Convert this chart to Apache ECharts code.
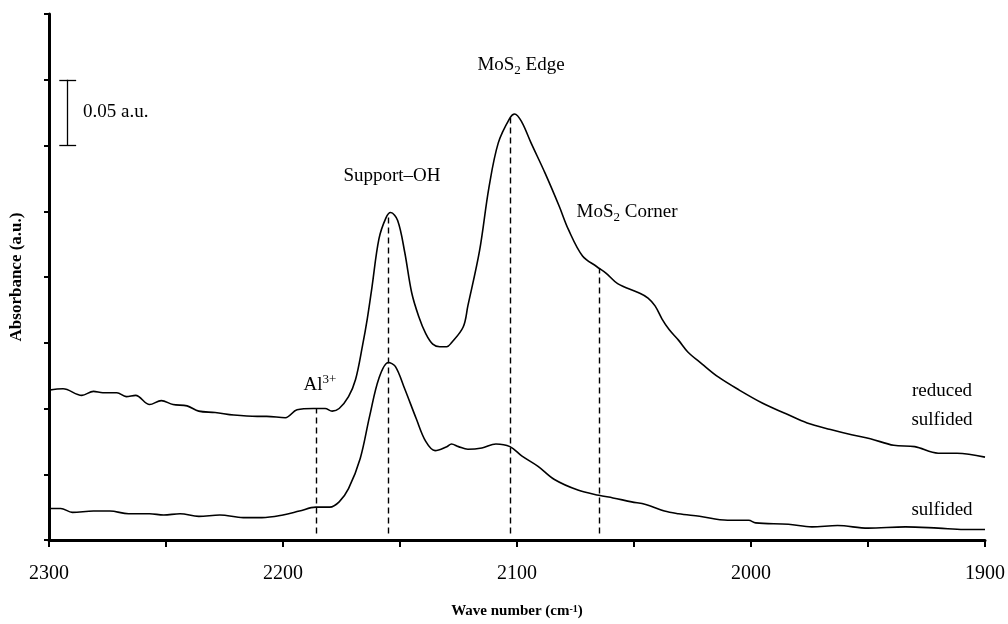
<!DOCTYPE html>
<html>
<head>
<meta charset="utf-8">
<title>CO adsorption IR spectra</title>
<script src="https://cdn.jsdelivr.net/npm/echarts@6/dist/echarts.min.js"></script>
<style>
  html, body { margin: 0; padding: 0; background: #fff; }
  #chart { width: 1008px; height: 624px; }
</style>
</head>
<body>
<div id="chart"></div>
<script>
// Reduced + sulfided catalyst spectrum (wavenumber in cm-1, absorbance in a.u.)
const reducedWn = [2300, 2294, 2286, 2281, 2277, 2271, 2267, 2263, 2257, 2252,
  2247, 2241, 2236, 2229, 2221, 2211, 2207, 2199, 2194, 2187,
  2182, 2179, 2176, 2172, 2169, 2166, 2164, 2162, 2159, 2156,
  2154, 2151, 2148, 2145, 2142, 2139, 2136, 2133, 2130, 2128,
  2123, 2121, 2116, 2112, 2108, 2103, 2101, 2098, 2094, 2088,
  2082, 2078, 2072, 2066, 2062, 2057, 2048, 2044, 2041, 2038,
  2035, 2031, 2027, 2021, 2014, 2005, 1995, 1985, 1976, 1966,
  1957, 1949, 1939, 1930, 1920, 1912, 1900];
const reducedAbs = [0.114, 0.115, 0.110, 0.113, 0.112, 0.112, 0.109, 0.110, 0.103, 0.106,
  0.103, 0.102, 0.098, 0.097, 0.095, 0.094, 0.094, 0.093, 0.099, 0.100,
  0.100, 0.098, 0.100, 0.109, 0.122, 0.148, 0.168, 0.192, 0.229, 0.245,
  0.249, 0.243, 0.219, 0.188, 0.170, 0.157, 0.149, 0.147, 0.147, 0.150,
  0.162, 0.178, 0.220, 0.268, 0.302, 0.321, 0.324, 0.318, 0.302, 0.279,
  0.254, 0.236, 0.216, 0.208, 0.203, 0.195, 0.188, 0.184, 0.178, 0.168,
  0.160, 0.152, 0.143, 0.134, 0.124, 0.114, 0.104, 0.096, 0.089, 0.084,
  0.080, 0.077, 0.072, 0.071, 0.066, 0.066, 0.063];

// Sulfided catalyst spectrum
const sulfidedWn = [2300, 2295, 2290, 2281, 2274, 2266, 2257, 2251, 2244, 2236,
  2227, 2217, 2209, 2200, 2193, 2186, 2180, 2176, 2172, 2167,
  2163, 2159, 2155, 2152, 2148, 2143, 2139, 2135, 2130, 2128,
  2125, 2121, 2115, 2109, 2103, 2098, 2091, 2084, 2074, 2065,
  2059, 2051, 2045, 2037, 2031, 2022, 2010, 2001, 1998, 1984,
  1974, 1963, 1950, 1934, 1920, 1909, 1900];
const sulfidedAbs = [0.024, 0.024, 0.021, 0.022, 0.022, 0.020, 0.020, 0.019, 0.020, 0.018,
  0.019, 0.017, 0.017, 0.019, 0.022, 0.025, 0.025, 0.029, 0.039, 0.062,
  0.094, 0.123, 0.135, 0.132, 0.115, 0.092, 0.075, 0.068, 0.071, 0.073,
  0.071, 0.069, 0.070, 0.073, 0.071, 0.064, 0.056, 0.046, 0.038, 0.034,
  0.032, 0.029, 0.027, 0.022, 0.020, 0.018, 0.015, 0.015, 0.013, 0.012,
  0.010, 0.011, 0.009, 0.010, 0.009, 0.008, 0.008];

// Band assignments (cm-1) marked with dashed drop lines
const bandNames = ['Al3+', 'Support-OH', 'MoS2 Edge', 'MoS2 Corner'];
const bandWn = [2186, 2155, 2103, 2065];

// X tick labels (every 100 cm-1 labelled, minor ticks every 50)
const xTickLabels = [2300, 2200, 2100, 2000, 1900];

// Scale bar: 0.05 a.u.
const scaleBarLow = 0.30;
const scaleBarHigh = 0.35;

const SERIF = '"Liberation Serif", "Times New Roman", serif';

function pairs(xs, ys) { return xs.map((x, i) => [x, ys[i]]); }

// Linear interpolation of a spectrum at a wavenumber
function interp(xs, ys, x) {
  for (let i = 0; i < xs.length - 1; i++) {
    const a = xs[i], b = xs[i + 1];
    if ((x <= a && x >= b) || (x >= a && x <= b)) {
      const t = (x - a) / (b - a);
      return ys[i] + t * (ys[i + 1] - ys[i]);
    }
  }
  return ys[ys.length - 1];
}

// Dashed drop lines from just above the axis up to the upper spectrum
const dropLines = bandWn.map(w => [
  { coord: [w, 0.005] },
  { coord: [w, interp(reducedWn, reducedAbs, w)] }
]);

const barX = 2292, capHalf = 3.6;
const scaleBar = [
  [{ coord: [barX, scaleBarLow] }, { coord: [barX, scaleBarHigh] }],
  [{ coord: [barX + capHalf, scaleBarLow] }, { coord: [barX - capHalf, scaleBarLow] }],
  [{ coord: [barX + capHalf, scaleBarHigh] }, { coord: [barX - capHalf, scaleBarHigh] }]
];

const chart = echarts.init(document.getElementById('chart'), null, { renderer: 'canvas' });

const richAnno = {
  n: { fontSize: 19, fontFamily: SERIF, color: '#000', lineHeight: 24, verticalAlign: 'middle' },
  sub: { fontSize: 13, fontFamily: SERIF, color: '#000', lineHeight: 13, verticalAlign: 'bottom' },
  sup: { fontSize: 13, fontFamily: SERIF, color: '#000', lineHeight: 13, verticalAlign: 'top' }
};

function annoText(x, y, text, align) {
  return {
    type: 'text', x: x, y: y, silent: true,
    style: {
      text: text, rich: richAnno, fill: '#000',
      fontSize: 19, fontFamily: SERIF,
      textAlign: align || 'center', textVerticalAlign: 'middle'
    }
  };
}

chart.setOption({
  animation: false,
  backgroundColor: '#fff',
  grid: { left: 49, right: 22, top: 14, bottom: 84 },
  xAxis: {
    type: 'value', inverse: true, min: 1900, max: 2300, interval: 50,
    name: 'Wave number (cm{sup|-1})',
    nameLocation: 'middle', nameGap: 64,
    nameTextStyle: {
      fontFamily: SERIF, fontWeight: 'bold', fontSize: 15, color: '#000',
      rich: { sup: { fontFamily: SERIF, fontWeight: 'bold', fontSize: 10, color: '#000', lineHeight: 10, verticalAlign: 'top' } }
    },
    axisLine: { lineStyle: { color: '#000', width: 3 } },
    axisTick: { length: 7, lineStyle: { color: '#000', width: 2 } },
    axisLabel: {
      fontFamily: SERIF, fontSize: 20, color: '#000', margin: 24,
      formatter: v => (xTickLabels.indexOf(v) >= 0 ? String(v) : '')
    },
    splitLine: { show: false }
  },
  yAxis: {
    type: 'value', min: 0, max: 0.4, interval: 0.05,
    name: 'Absorbance (a.u.)',
    nameLocation: 'middle', nameGap: 24,
    nameTextStyle: { fontFamily: SERIF, fontWeight: 'bold', fontSize: 17, color: '#000' },
    axisLine: { show: true, lineStyle: { color: '#000', width: 3 } },
    axisTick: { show: true, length: 5, lineStyle: { color: '#000', width: 2 } },
    axisLabel: { show: false },
    splitLine: { show: false }
  },
  series: [
    {
      name: 'reduced sulfided', type: 'line', data: pairs(reducedWn, reducedAbs),
      showSymbol: false, smooth: 0.35,
      lineStyle: { color: '#000', width: 1.6 },
      markLine: {
        silent: true, symbol: 'none', label: { show: false },
        lineStyle: { color: '#000', width: 1.4, type: [6, 4] },
        data: dropLines
      }
    },
    {
      name: 'sulfided', type: 'line', data: pairs(sulfidedWn, sulfidedAbs),
      showSymbol: false, smooth: 0.35,
      lineStyle: { color: '#000', width: 1.6 },
      markLine: {
        silent: true, symbol: 'none', label: { show: false },
        lineStyle: { color: '#000', width: 1.3, type: 'solid' },
        data: scaleBar
      }
    }
  ],
  graphic: [
    annoText(83, 112, '0.05 a.u.', 'left'),
    annoText(392, 176, '{n|Support–OH}'),
    annoText(521, 65, '{n|MoS}{sub|2}{n| Edge}'),
    annoText(627, 212, '{n|MoS}{sub|2}{n| Corner}'),
    annoText(320, 385, '{n|Al}{sup|3+}'),
    annoText(942, 391, 'reduced'),
    annoText(942, 420, 'sulfided'),
    annoText(942, 510, 'sulfided')
  ]
});
</script>
</body>
</html>
